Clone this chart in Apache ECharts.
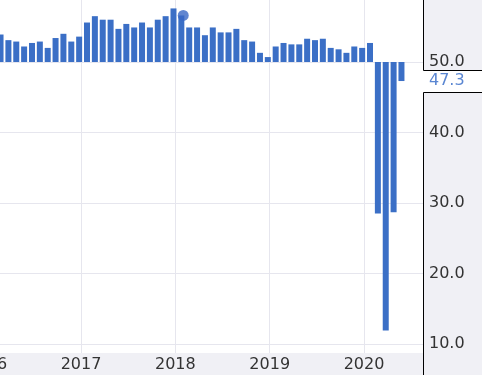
<!DOCTYPE html>
<html><head><meta charset="utf-8">
<script src="https://cdn.jsdelivr.net/npm/echarts@6/dist/echarts.min.js"></script>
<style>html,body{margin:0;padding:0;background:#f0f0f5}#c{width:482px;height:375px}</style>
</head><body><div id="c"></div>
<script>
const months = [
 '2016-03','2016-04','2016-05','2016-06','2016-07','2016-08','2016-09','2016-10','2016-11','2016-12',
 '2017-01','2017-02','2017-03','2017-04','2017-05','2017-06','2017-07','2017-08','2017-09','2017-10','2017-11','2017-12',
 '2018-01','2018-02','2018-03','2018-04','2018-05','2018-06','2018-07','2018-08','2018-09','2018-10','2018-11','2018-12',
 '2019-01','2019-02','2019-03','2019-04','2019-05','2019-06','2019-07','2019-08','2019-09','2019-10','2019-11','2019-12',
 '2020-01','2020-02','2020-03','2020-04','2020-05','2020-06'];
const values = [
 53.9,53.1,52.9,52.2,52.7,52.9,52.0,53.4,54.0,52.9,
 53.6,55.6,56.5,56.0,56.0,54.7,55.4,54.9,55.6,54.9,56.0,56.5,
 57.6,56.6,54.9,54.9,53.8,54.9,54.2,54.2,54.7,53.1,52.9,51.3,
 50.7,52.2,52.7,52.5,52.5,53.3,53.1,53.3,52.0,51.8,51.3,52.2,
 52.0,52.7,28.5,11.9,28.7,47.3];
const yTicks = [10, 20, 30, 40, 50];
const xYears = [2016, 2017, 2018, 2019, 2020];
const highlightMonth = '2018-02';
const baseline = 50;

const barColor = '#3b6fc6';
const panelColor = '#f0f0f5';
const gridColor = '#e6e6ee';
const font = 'DejaVu Sans';

const decimal = s => { const [y, m] = s.split('-').map(Number); return y + (m - 1) / 12; };
const barShift = -0.02;
const barData = months.map((m, i) => [decimal(m) + barShift, values[i]]);
const hiIdx = months.indexOf(highlightMonth);
const dotData = [[decimal(highlightMonth), values[hiIdx]]];

const xMin = xYears[0], xMax = 2020.625;
const gridLeft = -13.3, gridRight = 59;

const chart = echarts.init(document.getElementById('c'), null, {renderer: 'canvas'});
const option = {
  backgroundColor: panelColor,
  animation: false,
  grid: [
    {left: gridLeft, right: gridRight, top: -8.5, bottom: -39.5, show: false, containLabel: false, outerBoundsMode: 'none'},
    {left: gridLeft, right: gridRight, top: -8.5, bottom: 22, show: true, backgroundColor: '#ffffff', borderWidth: 0, containLabel: false, outerBoundsMode: 'none'}
  ],
  xAxis: [
    {gridIndex: 0, type: 'value', min: xMin, max: xMax, show: false, splitLine: {show: false}},
    {gridIndex: 1, type: 'value', min: xMin, max: xMax, interval: 1,
     axisLine: {show: false}, axisTick: {show: false},
     splitLine: {show: true, lineStyle: {color: gridColor, width: 1}},
     axisLabel: {show: true, color: '#333', fontSize: 16, fontFamily: font, margin: 4,
       showMaxLabel: false, formatter: v => xYears.includes(v) ? String(v) : ''}}
  ],
  yAxis: [
    {gridIndex: 0, type: 'value', position: 'right', min: 0, max: 60, interval: 10,
     axisLine: {show: false}, axisTick: {show: false},
     splitLine: {show: true, lineStyle: {color: gridColor, width: 1}},
     axisLabel: {show: false}},
    {gridIndex: 1, type: 'value', min: 0, max: 1, show: false, splitLine: {show: false}},
    {gridIndex: 0, type: 'value', position: 'right', min: 0, max: 60, interval: 10, z: 10,
     axisLine: {show: false}, axisTick: {show: false}, splitLine: {show: false},
     axisLabel: {color: '#333', fontSize: 16, fontFamily: font, margin: 6,
       formatter: v => yTicks.includes(v) ? v.toFixed(1) : ''}}
  ],
  series: [
    {type: 'custom', xAxisIndex: 0, yAxisIndex: 0, data: barData, clip: false,
     encode: {x: 0, y: 1},
     renderItem: (params, api) => {
       const x = api.value(0), v = api.value(1);
       const p1 = api.coord([x, baseline]);
       const p2 = api.coord([x, v]);
       const w = 6;
       return {type: 'rect',
         shape: {x: p1[0] - w / 2, y: Math.min(p1[1], p2[1]), width: w, height: Math.abs(p2[1] - p1[1])},
         style: {fill: barColor}};
     }},
    {type: 'scatter', xAxisIndex: 0, yAxisIndex: 0, data: dotData, symbolSize: 11,
     itemStyle: {color: '#3a68c4'}, z: 4}
  ]
};
chart.setOption(option);

const last = values[values.length - 1];
const ly = chart.convertToPixel({yAxisIndex: 0}, last);
const panelX = chart.convertToPixel({xAxisIndex: 1}, xMax);
const gapTop = Math.round(ly - 11) + 0.5, gapBot = Math.round(ly + 11) + 0.5;
chart.setOption({
  graphic: [
    {type: 'rect', z: 5, shape: {x: Math.round(panelX) + 0.5, y: -5, width: 100, height: gapTop + 5},
     style: {fill: panelColor, stroke: '#000', lineWidth: 1}},
    {type: 'rect', z: 5, shape: {x: Math.round(panelX), y: gapTop + 0.5, width: 100, height: gapBot - gapTop - 1},
     style: {fill: '#ffffff'}},
    {type: 'rect', z: 5, shape: {x: Math.round(panelX) + 0.5, y: gapBot, width: 100, height: 400},
     style: {fill: panelColor, stroke: '#000', lineWidth: 1}},
    {type: 'text', z: 11, x: Math.round(panelX) + 6, y: ly,
     style: {text: last.toFixed(1), fill: '#5a86d2', font: '16px "DejaVu Sans"', textVerticalAlign: 'middle', verticalAlign: 'middle'}}
  ]
});
</script>
</body></html>
